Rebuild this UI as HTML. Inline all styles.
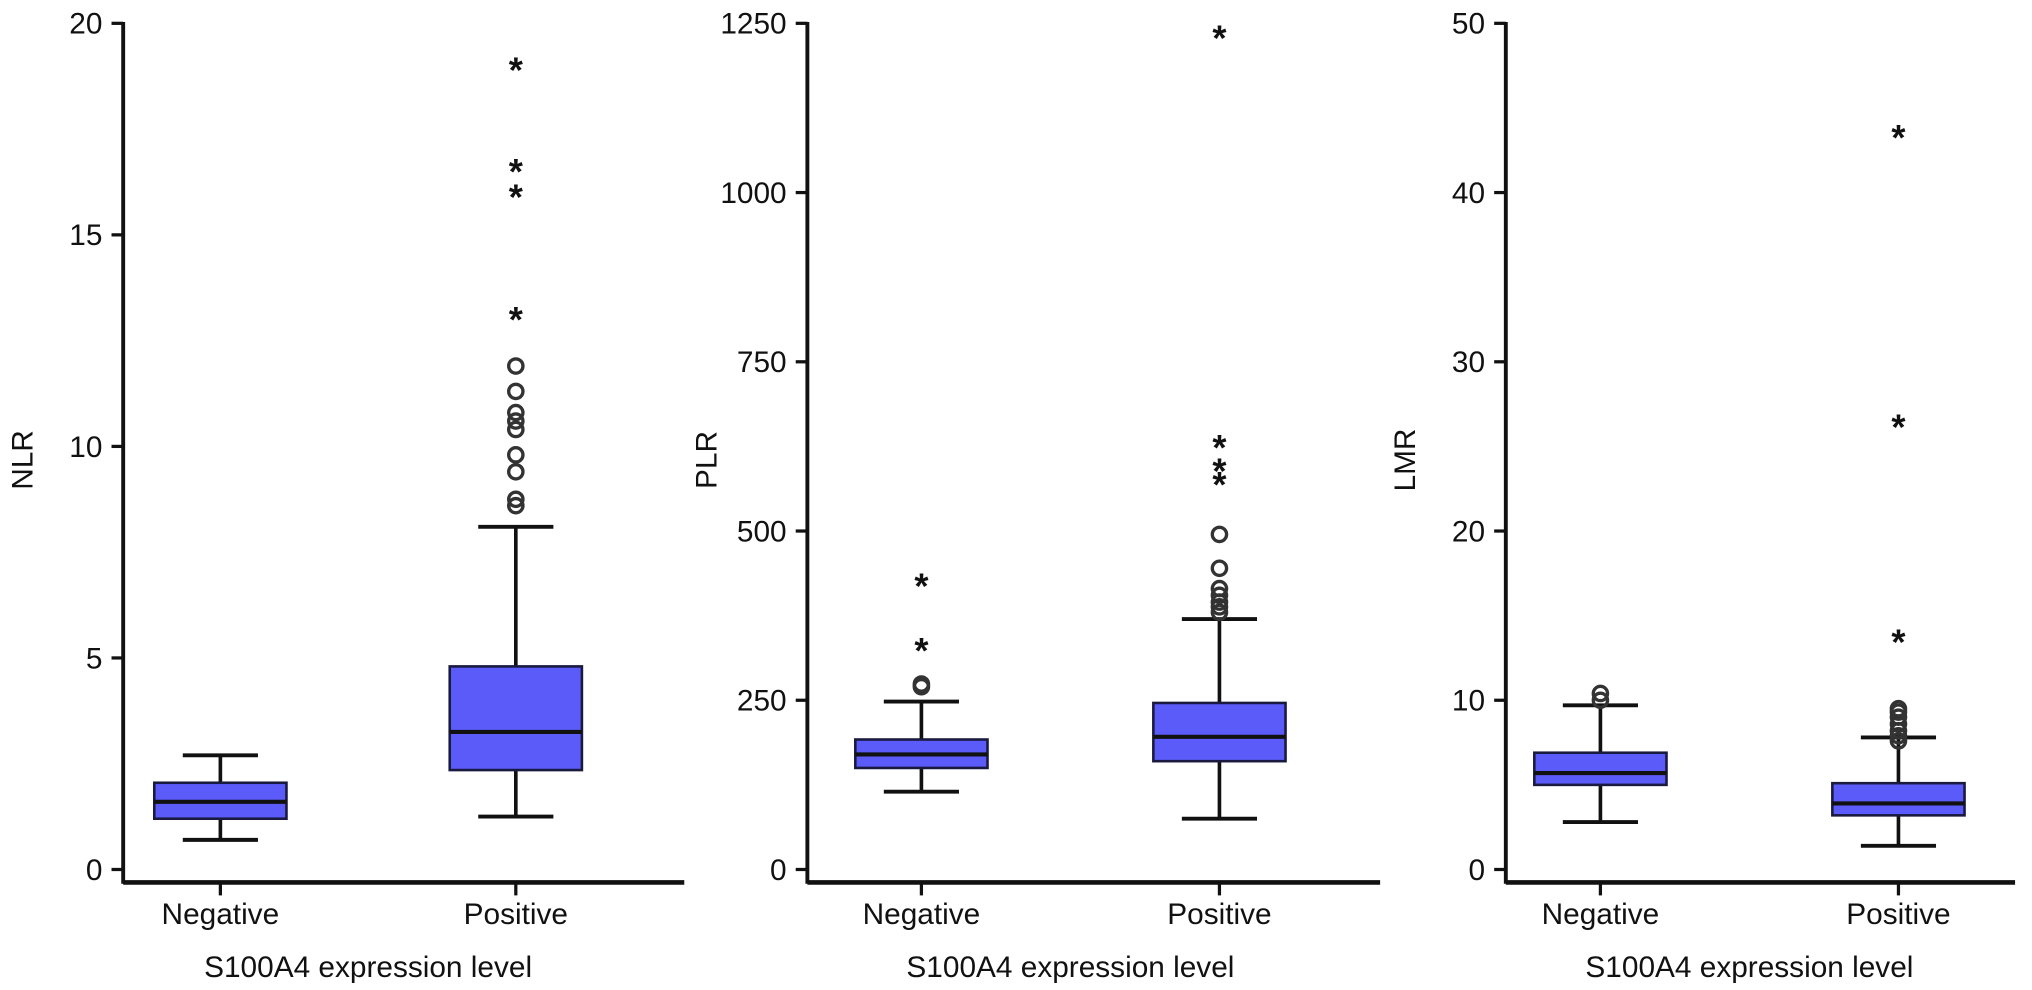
<!DOCTYPE html>
<html><head><meta charset="utf-8"><style>
html,body{margin:0;padding:0;background:#fff;}
svg{display:block;font-family:"Liberation Sans",Arial,sans-serif;}
</style></head><body>
<svg id="chart" width="2032" height="990" viewBox="0 0 1568 764" xmlns="http://www.w3.org/2000/svg"></svg>
<script>
const categories = ["Negative", "Positive"];
const panelTitles = ["NLR", "PLR", "LMR"];
const yMaxes = [20, 1250, 50];
const yTicks0 = [0, 5, 10, 15, 20];
const yTicks1 = [0, 250, 500, 750, 1000, 1250];
const yTicks2 = [0, 10, 20, 30, 40, 50];
// [whiskerLow, q1, median, q3, whiskerHigh]
const nlrNeg = [0.7, 1.2, 1.6, 2.05, 2.7];
const nlrPos = [1.25, 2.35, 3.25, 4.8, 8.1];
const plrNeg = [115, 150, 170, 192, 248];
const plrPos = [75, 160, 196, 246, 370];
const lmrNeg = [2.8, 5.0, 5.7, 6.9, 9.7];
const lmrPos = [1.4, 3.2, 3.9, 5.1, 7.8];
const nlrNegCircles = [], nlrNegStars = [];
const nlrPosCircles = [8.6, 8.75, 9.4, 9.8, 10.4, 10.6, 10.8, 11.3, 11.9];
const nlrPosStars = [13.1, 16.0, 16.6, 19.0];
const plrNegCircles = [270, 274];
const plrNegStars = [330, 425];
const plrPosCircles = [380, 388, 395, 405, 415, 445, 495];
const plrPosStars = [575, 595, 630, 1235];
const lmrNegCircles = [10.0, 10.4];
const lmrNegStars = [];
const lmrPosCircles = [7.6, 7.9, 8.2, 8.6, 9.0, 9.3, 9.5];
const lmrPosStars = [13.7, 26.4, 43.5];

const svg = document.getElementById('chart');
const NS = "http://www.w3.org/2000/svg";
function mk(tag, attrs, parent){const e=document.createElementNS(NS,tag);for(const k in attrs)e.setAttribute(k,attrs[k]);(parent||svg).appendChild(e);return e;}

const layout = [
  {ax:95, xEnd:528, cx:[170,398]},
  {ax:623, xEnd:1065, cx:[711,941]},
  {ax:1162, xEnd:1555, cx:[1235,1465]}
];
const panels = [
  {ticks:yTicks0, boxes:[nlrNeg,nlrPos], circ:[nlrNegCircles,nlrPosCircles], stars:[nlrNegStars,nlrPosStars]},
  {ticks:yTicks1, boxes:[plrNeg,plrPos], circ:[plrNegCircles,plrPosCircles], stars:[plrNegStars,plrPosStars]},
  {ticks:yTicks2, boxes:[lmrNeg,lmrPos], circ:[lmrNegCircles,lmrPosCircles], stars:[lmrNegStars,lmrPosStars]}
];
const Y0 = 671, Y1 = 18, AXY = 681, BW = 102;

panels.forEach((p, i) => {
  const L = layout[i];
  const y = v => Y0 - (v / yMaxes[i]) * (Y0 - Y1);
  const g = mk('g', {});
  
  
  const ya = mk('line', {x1:L.ax, y1:Y1-1, x2:L.ax, y2:AXY+1, stroke:'#111', 'stroke-width':3}, g);
  
  
  p.ticks.forEach(t => {
    mk('line', {x1:L.ax-9, y1:y(t), x2:L.ax, y2:y(t), stroke:'#111', 'stroke-width':2.5}, g);
    const tx = mk('text', {x:L.ax-16, y:y(t)+8, 'text-anchor':'end', 'font-size':23, fill:'#111'}, g);
    tx.textContent = t;
    
    
  });
  const yt = mk('text', {transform:`translate(${L.ax-70},355) rotate(-90)`, 'text-anchor':'middle', 'font-size':23, fill:'#111'}, g);
  yt.textContent = panelTitles[i];
  
  
  const xa = mk('line', {x1:L.ax, y1:AXY, x2:L.xEnd, y2:AXY, stroke:'#111', 'stroke-width':3.5}, g);
  
  
  categories.forEach((c, j) => {
    const cx = L.cx[j];
    mk('line', {x1:cx, y1:AXY, x2:cx, y2:AXY+10, stroke:'#111', 'stroke-width':2.5}, g);
    const lt = mk('text', {x:cx, y:713, 'text-anchor':'middle', 'font-size':23, fill:'#111'}, g);
    lt.textContent = c;
    
    
    const b = p.boxes[j];
    const bg = mk('g', {}, g);
    
    
    mk('line', {x1:cx, y1:y(b[0]), x2:cx, y2:y(b[4]), stroke:'#111', 'stroke-width':2.8}, bg);
    mk('line', {x1:cx-29, y1:y(b[0]), x2:cx+29, y2:y(b[0]), stroke:'#111', 'stroke-width':3}, bg);
    mk('line', {x1:cx-29, y1:y(b[4]), x2:cx+29, y2:y(b[4]), stroke:'#111', 'stroke-width':3}, bg);
    mk('rect', {x:cx-BW/2, y:y(b[3]), width:BW, height:y(b[1])-y(b[3]), fill:'#5b5bfa', stroke:'#1a1a40', 'stroke-width':2}, bg);
    mk('line', {x1:cx-BW/2, y1:y(b[2]), x2:cx+BW/2, y2:y(b[2]), stroke:'#111', 'stroke-width':3.2}, bg);
    p.circ[j].forEach(v => {
      const o = mk('circle', {cx:cx, cy:y(v), r:5.5, fill:'none', stroke:'#333', 'stroke-width':2.6}, bg);
      
      
    });
    p.stars[j].forEach(v => {
      const s = mk('text', {x:cx, y:y(v)+13, 'text-anchor':'middle', 'font-size':28, 'font-weight':'bold', fill:'#111'}, bg);
      s.textContent = '*';
      
      
    });
  });
  const xt = mk('text', {x:(L.cx[0]+L.cx[1])/2, y:754, 'text-anchor':'middle', 'font-size':23, fill:'#111'}, g);
  xt.textContent = 'S100A4 expression level';
  
  
});
</script>
</body></html>
